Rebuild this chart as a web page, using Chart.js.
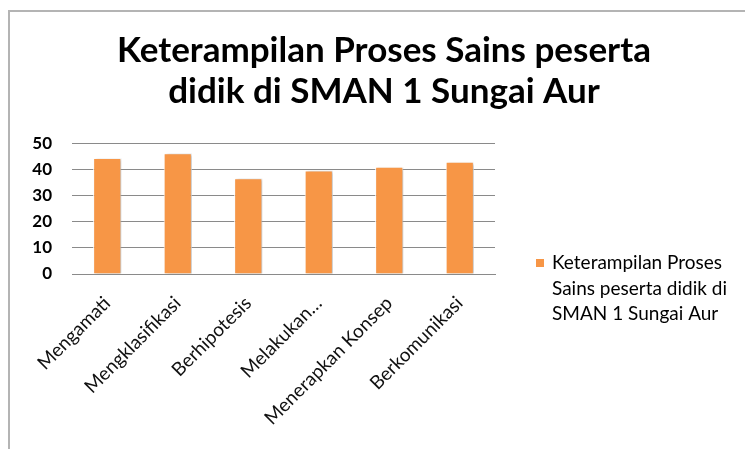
<!DOCTYPE html>
<html>
<head>
<meta charset="utf-8">
<script src="https://cdn.jsdelivr.net/npm/chart.js@4.4.0/dist/chart.umd.min.js"></script>
<style>
    html, body { margin: 0; padding: 0; background: #fff; }
</style>
</head>
<body>
<canvas id="chart" width="745" height="449"></canvas>
<script>
// Data
const categories = ['Mengamati', 'Mengklasifikasi', 'Berhipotesis', 'Melakukan…', 'Menerapkan Konsep', 'Berkomunikasi'];
const scores = [44.4, 46.3, 36.7, 39.7, 41.1, 43.0];
const seriesName = 'Keterampilan Proses Sains peserta didik di SMAN 1 Sungai Aur';
const titleLines = ['Keterampilan Proses Sains peserta', 'didik di SMAN 1 Sungai Aur'];

const FONT = 'Lato, "Open Sans", sans-serif';
const ORANGE = '#F79646';

// Frame (top + left border like the pasted office chart)
const framePlugin = {
    id: 'frame',
    beforeDraw(chart) {
        const ctx = chart.ctx;
        ctx.save();
        ctx.strokeStyle = '#b4b4b4';
        ctx.lineWidth = 2;
        ctx.beginPath();
        ctx.moveTo(9, 449);
        ctx.lineTo(9, 11);
        ctx.lineTo(745, 11);
        ctx.stroke();
        ctx.restore();
    }
};

// Soft shadow under the bars
const shadowPlugin = {
    id: 'barShadow',
    beforeDatasetsDraw(chart) {
        const ctx = chart.ctx;
        ctx.save();
        ctx.shadowColor = 'rgba(0,0,0,0.28)';
        ctx.shadowBlur = 3;
        ctx.shadowOffsetX = 2;
        ctx.shadowOffsetY = 1;
    },
    afterDatasetsDraw(chart) {
        chart.ctx.restore();
    }
};

// Legend with wrapped text on the right
const sideLegend = {
    id: 'sideLegend',
    afterDraw(chart) {
        const ctx = chart.ctx;
        const ds = chart.data.datasets[0];
        ctx.save();
        ctx.font = '19px ' + FONT;
        ctx.textBaseline = 'alphabetic';
        const maxW = 195;
        const words = ds.label.split(' ');
        const lines = [];
        let cur = '';
        words.forEach(w => {
            const test = cur ? cur + ' ' + w : w;
            if (ctx.measureText(test).width > maxW && cur) {
                lines.push(cur);
                cur = w;
            } else {
                cur = test;
            }
        });
        if (cur) lines.push(cur);

        const x = 552, y0 = 269, lh = 25.5;
        ctx.fillStyle = ds.backgroundColor;
        ctx.fillRect(536, 259, 8, 8);
        ctx.fillStyle = '#000';
        lines.forEach((l, i) => ctx.fillText(l, x, y0 + i * lh));
        ctx.restore();
    }
};

new Chart(document.getElementById('chart').getContext('2d'), {
    type: 'bar',
    data: {
        labels: categories,
        datasets: [{
            label: seriesName,
            data: scores,
            backgroundColor: ORANGE,
            borderColor: '#ffffff',
            borderWidth: 1,
            categoryPercentage: 0.8,
            barPercentage: 0.5
        }]
    },
    options: {
        responsive: false,
        animation: false,
        layout: {
            padding: { left: 23, right: 0, top: 0, bottom: 0 }
        },
        plugins: {
            legend: { display: false },
            tooltip: { enabled: false },
            title: {
                display: true,
                text: titleLines,
                color: '#000',
                font: { family: FONT, size: 35, weight: 'bold', lineHeight: 1.15 },
                padding: { top: 31, bottom: 32 }
            }
        },
        scales: {
            x: {
                grid: { display: false },
                border: { display: true, color: '#8a8a8a', width: 1 },
                ticks: {
                    color: '#111',
                    font: { family: FONT, size: 19 },
                    minRotation: 45,
                    maxRotation: 45,
                    autoSkip: false,
                    padding: 10
                },
                afterFit(scale) { scale.height = 175; }
            },
            y: {
                min: 0,
                max: 50,
                ticks: {
                    stepSize: 10,
                    color: '#000',
                    font: { family: FONT, size: 17, weight: 'bold' },
                    padding: 20
                },
                grid: { color: '#8a8a8a', drawTicks: false },
                border: { display: false },
                afterFit(scale) { scale.width = 49; }
            },
            // empty space on the right, kept for the legend
            legendSpace: {
                type: 'linear',
                position: 'right',
                grid: { display: false },
                ticks: { display: false },
                border: { display: false },
                afterFit(scale) { scale.width = 250; }
            }
        }
    },
    plugins: [framePlugin, shadowPlugin, sideLegend]
});
</script>
</body>
</html>
